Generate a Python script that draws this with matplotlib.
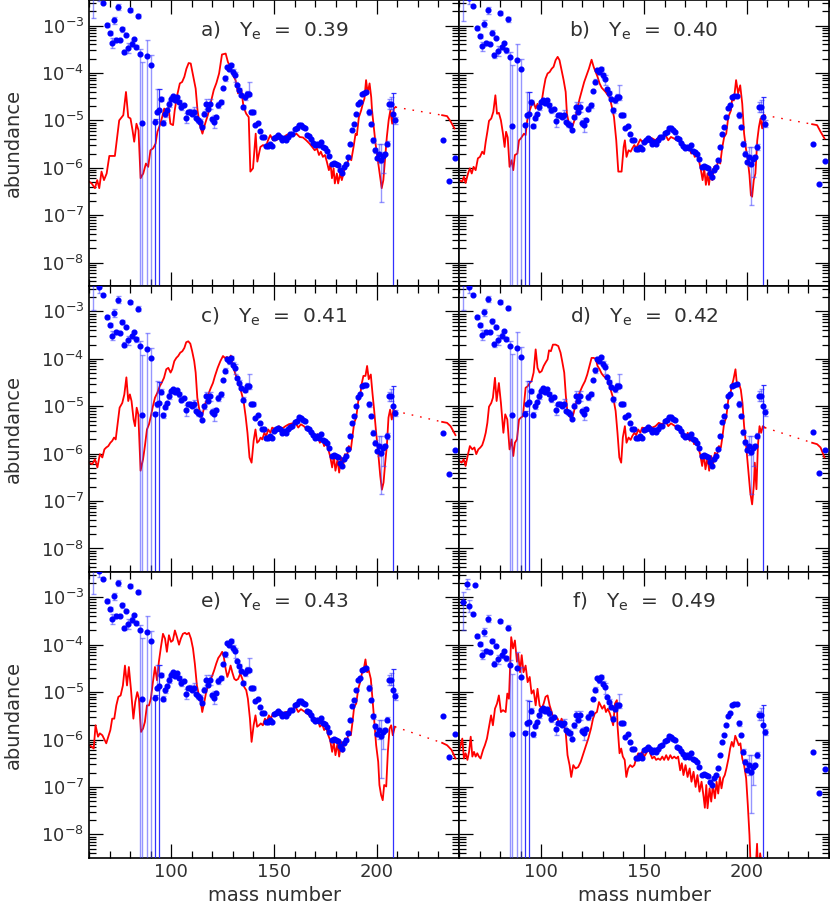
import numpy as np
import matplotlib.pyplot as plt
from matplotlib.ticker import LogLocator, MultipleLocator, NullFormatter

# panel labels
panel_tags = ['a', 'b', 'c', 'd', 'e', 'f']
panel_ye = ['0.39', '0.40', '0.41', '0.42', '0.43', '0.49']
# normalisation of the observed pattern in each panel (dex, relative to panel b)
obs_shift = [0.07, 0.0, -0.07, -0.06, -0.02, -0.77]

# observed r-process abundances (log10, panel b scale)
obs_mass = [62, 64, 65, 66, 67, 68, 69, 70, 71, 72, 73, 74, 75, 76, 77, 78, 79, 80,
            81, 82, 83, 84, 85, 86, 88, 90,
            92, 93, 94, 95, 96, 97, 98, 99, 100, 101, 102, 103, 104, 105, 106, 107,
            108, 109, 110, 111, 112, 113, 114, 115, 116, 117, 118, 119, 120, 121,
            122, 123, 124, 125, 126, 127, 128, 129, 130, 131, 132, 133, 134, 135,
            136, 137, 138, 139, 140, 141, 142, 143, 144, 145, 146, 147, 148, 149,
            150, 151, 152, 153, 154, 155, 156, 157, 158, 159, 160, 161, 162, 163,
            164, 165, 166, 167, 168, 169, 170, 171, 172, 173, 174, 175, 176, 177,
            178, 179, 180, 181, 182, 183, 184, 185, 186, 187, 188, 189, 190, 191,
            192, 193, 194, 195, 196, 197, 198, 199, 200, 201, 202, 203, 204, 205,
            206, 207, 208, 209,
            232, 235, 238]
obs_log = [-2.33, -1.95, -2.42, -1.60, -2.59, -1.96, -3.05, -3.22, -3.44, -2.96, -3.37,
           -2.68, -3.38, -3.15, -3.63, -3.26, -3.54, -2.74, -3.45, -3.36, -3.52, -2.87,
           -3.66, -5.12, -3.72, -3.91,
           -5.10, -4.89, -4.86, -4.62, -5.12, -4.94, -4.86, -4.72, -4.61, -4.56, -4.63,
           -4.58, -4.68, -4.79, -4.75, -5.01, -4.89, -4.89, -4.93, -4.89, -5.03, -5.07,
           -5.10, -5.21, -4.93, -4.72, -4.82, -4.72, -5.05, -5.10, -5.00, -4.75, -4.68,
           -4.38, -4.18, -3.94, -3.98, -3.91, -4.05, -4.12, -4.33, -4.43, -4.54, -4.79,
           -4.58, -4.51, -4.51, -4.89, -4.89, -5.17, -5.12, -5.29, -5.42, -5.42, -5.61,
           -5.61, -5.56, -5.61, -5.45, -5.42, -5.38, -5.42, -5.49, -5.45, -5.49, -5.42,
           -5.36, -5.35, -5.26, -5.24, -5.16, -5.17, -5.21, -5.24, -5.38, -5.40, -5.47,
           -5.54, -5.59, -5.56, -5.59, -5.52, -5.64, -5.66, -5.71, -5.82, -5.98, -5.96,
           -5.98, -6.01, -6.12, -6.19, -6.05, -5.98, -5.84, -5.56, -5.28, -5.14, -4.93,
           -4.73, -4.68, -4.51, -4.49, -4.48, -4.89, -5.14, -5.49, -5.70, -5.87, -5.77,
           -5.91, -5.82, -5.77, -5.56, -4.72, -4.72, -4.93, -5.07,
           -5.49, -6.35, -5.86]
# error bars (down, up) in dex; None = lower limit reaches zero
obs_err = {62: (0.58, 0.21), 64: (0.10, 0.10), 65: (0.13, 0.13), 69: (0.04, 0.04),
           70: (0.04, 0.04), 71: (0.10, 0.10), 72: (0.08, 0.08), 73: (0.04, 0.04),
           74: (0.07, 0.07), 76: (0.05, 0.05), 77: (0.05, 0.05), 79: (0.10, 0.10),
           80: (0.04, 0.04), 81: (0.05, 0.05), 83: (0.05, 0.05), 84: (0.05, 0.05),
           85: (None, 0.10), 86: (None, 1.28), 88: (None, 0.34), 90: (None, 0.21),
           92: (None, 0.05), 93: (0.05, 0.49), 94: (None, 0.45), 95: (0.05, 0.05),
           96: (0.05, 0.05), 97: (0.05, 0.05), 99: (0.06, 0.06), 100: (0.05, 0.05),
           102: (0.05, 0.05), 104: (0.05, 0.05), 105: (0.06, 0.06), 107: (0.12, 0.10),
           109: (0.05, 0.05), 111: (0.05, 0.10), 113: (0.06, 0.06), 114: (0.05, 0.05),
           116: (0.05, 0.05), 117: (0.10, 0.10), 119: (0.10, 0.10), 120: (0.06, 0.06),
           121: (0.14, 0.14), 123: (0.06, 0.06), 124: (0.05, 0.05), 126: (0.05, 0.05),
           128: (0.05, 0.05), 129: (0.04, 0.04), 130: (0.06, 0.06), 131: (0.14, 0.08),
           133: (0.05, 0.05), 135: (0.05, 0.05), 136: (0.05, 0.05), 137: (0.06, 0.06),
           138: (0.05, 0.25), 139: (0.04, 0.04), 140: (0.04, 0.04), 196: (0.06, 0.06),
           198: (0.05, 0.05), 199: (0.05, 0.05), 201: (0.20, 0.21), 202: (0.88, 0.35),
           203: (0.37, 0.09), 205: (0.06, 0.06), 206: (0.10, 0.10), 207: (0.10, 0.15),
           208: (None, 0.43), 209: (0.07, 0.07)}
dark_bars = [92, 94, 208]

# model abundances (log10) for each panel
model_a_mass = [60.0, 61.3, 62.9, 64.0, 65.0, 66.1, 67.3, 68.6, 69.9, 72.6, 74.7, 76.7, 78.0,
                79.1, 80.2, 81.2, 82.0, 83.1, 84.1, 85.1, 86.4, 87.7, 88.8, 89.9, 91.2, 92.4,
                93.3, 94.5, 95.6, 96.6, 97.7, 98.7, 99.6, 100.9, 101.7, 102.9, 104.2, 105.3,
                106.4, 107.4, 108.5, 109.5, 110.3, 111.9, 112.8, 113.9, 115.2, 116.5, 117.8,
                119.1, 120.7, 122.0, 123.3, 124.7, 126.5, 127.6, 128.8, 130.1, 131.3, 132.5,
                134.1, 135.2, 136.5, 137.7, 138.5, 139.8, 141.1, 141.9, 143.4, 144.7, 146.0,
                147.1, 148.2, 149.5, 151.1, 152.8, 154.4, 156.0, 157.6, 159.2, 160.9, 162.5,
                164.1, 165.7, 167.3, 168.6, 169.8, 170.9, 171.9, 172.8, 173.8, 174.8, 175.7,
                176.7, 177.5, 178.2, 179.0, 179.6, 180.6, 181.2, 182.2, 183.0, 183.8, 184.8,
                185.6, 186.4, 187.6, 188.7, 189.7, 190.3, 191.3, 192.4, 193.2, 194.0, 194.8,
                195.6, 196.5, 197.3, 197.7, 198.4, 199.4, 200.5, 201.6, 202.4, 203.2, 204.1,
                204.9, 205.8, 206.6, 207.5, 208.3, 209.1]
model_a_log = [-6.29, -6.33, -6.43, -6.26, -6.43, -6.08, -6.26, -6.12, -5.75, -5.75, -5.00,
               -4.89, -4.40, -4.93, -4.96, -5.21, -5.45, -5.07, -5.21, -6.22, -6.12, -5.91,
               -5.98, -5.63, -5.59, -5.49, -5.24, -5.10, -4.93, -4.75, -4.89, -4.72, -5.07,
               -5.10, -4.79, -4.47, -4.22, -4.19, -4.08, -3.91, -3.79, -3.80, -3.98, -4.33,
               -4.79, -5.10, -5.28, -5.07, -4.89, -4.65, -4.36, -4.21, -4.01, -3.61, -3.59,
               -3.77, -3.87, -4.05, -4.15, -4.43, -4.36, -4.72, -4.86, -4.93, -6.08, -6.01,
               -5.28, -5.87, -5.56, -5.52, -5.56, -5.42, -5.31, -5.42, -5.42, -5.35, -5.38,
               -5.31, -5.28, -5.33, -5.28, -5.35, -5.36, -5.42, -5.49, -5.56, -5.63, -5.59,
               -5.73, -5.66, -5.77, -5.73, -5.87, -6.05, -5.91, -6.22, -6.01, -6.33, -6.12,
               -6.33, -6.12, -6.26, -6.12, -5.91, -5.94, -5.77, -5.84, -5.56, -5.28, -5.31,
               -4.93, -4.79, -4.65, -4.54, -4.15, -4.43, -4.22, -4.51, -4.79, -5.07, -5.49,
               -5.84, -6.19, -6.43, -6.26, -5.77, -5.35, -4.99, -4.79, -5.07, -4.75, -4.72]
tail_a_mass = [231.8, 234.2, 235.9, 237.8]
tail_a_log = [-4.89, -4.91, -5.02, -5.17]

model_b_mass = [60.0, 61.6, 62.4, 63.2, 64.4, 65.3, 66.2, 67.1, 68.1, 69.2, 70.2, 71.3, 72.2,
                73.0, 73.8, 74.6, 75.7, 76.7, 77.7, 78.5, 79.4, 80.4, 81.4, 82.2, 82.9, 83.7,
                84.6, 85.6, 86.4, 87.2, 88.4, 89.2, 90.1, 91.6, 92.4, 93.2, 94.4, 95.3, 96.3,
                97.3, 98.2, 99.2, 100.2, 101.2, 102.1, 103.1, 104.1, 105.1, 106.0, 107.0,
                108.0, 108.9, 109.9, 110.9, 111.9, 112.5, 113.5, 114.6, 115.4, 116.7, 117.7,
                118.7, 120.0, 120.9, 121.9, 123.2, 124.5, 125.5, 126.5, 127.4, 128.4, 129.4,
                131.3, 133.3, 134.2, 135.4, 136.5, 137.5, 139.1, 140.1, 140.7, 141.5, 142.5,
                143.5, 144.3, 145.3, 146.2, 147.2, 148.2, 149.1, 150.8, 152.4, 154.0, 155.6,
                157.2, 158.9, 160.5, 161.8, 163.1, 164.5, 166.2, 167.5, 168.6, 169.9, 171.0,
                171.8, 173.0, 173.9, 174.7, 175.7, 176.7, 177.7, 178.5, 179.3, 180.1, 180.9,
                181.6, 182.5, 183.2, 184.1, 185.1, 186.1, 187.1, 188.0, 189.0, 190.0, 191.0,
                192.3, 192.9, 193.7, 194.8, 195.8, 196.8, 197.8, 198.7, 199.7, 200.5, 201.3,
                202.0, 202.6, 203.4, 204.2, 205.1, 205.9, 206.7, 207.5, 208.5]
model_b_log = [-6.26, -6.29, -6.19, -6.32, -6.12, -6.01, -6.12, -5.98, -6.05, -5.80, -5.77,
               -5.66, -5.71, -5.45, -5.24, -5.01, -4.96, -4.82, -4.47, -4.86, -4.84, -5.00,
               -5.28, -5.56, -5.24, -5.36, -5.98, -5.84, -6.05, -5.73, -5.70, -5.42, -5.38,
               -5.28, -5.31, -5.00, -4.79, -4.68, -4.61, -4.75, -4.65, -4.75, -4.61, -4.33,
               -4.12, -4.01, -3.98, -3.91, -3.87, -3.73, -3.66, -3.73, -3.94, -4.15, -4.40,
               -4.86, -5.07, -5.17, -5.10, -4.93, -4.72, -4.54, -4.33, -4.19, -4.07, -3.91,
               -3.72, -3.87, -3.98, -4.08, -4.22, -4.31, -4.40, -4.52, -4.68, -4.93, -5.42,
               -6.08, -6.08, -5.56, -5.42, -5.77, -5.63, -5.66, -5.59, -5.52, -5.59, -5.49,
               -5.40, -5.45, -5.42, -5.35, -5.38, -5.42, -5.35, -5.36, -5.31, -5.42, -5.35,
               -5.38, -5.42, -5.45, -5.49, -5.59, -5.63, -5.56, -5.70, -5.66, -5.77, -5.73,
               -5.84, -6.05, -6.26, -6.01, -6.36, -6.12, -6.36, -6.05, -6.26, -5.98, -6.05,
               -5.84, -5.91, -5.59, -5.35, -5.28, -4.93, -4.79, -4.54, -4.58, -4.15, -4.43,
               -4.26, -4.65, -5.28, -5.63, -5.84, -6.15, -6.58, -6.61, -6.26, -6.12, -5.42,
               -5.14, -4.96, -5.17, -4.89]
tail_b_mass = [231.8, 234.2, 235.9, 237.8]
tail_b_log = [-5.08, -5.10, -5.24, -5.38]

model_c_mass = [60.0, 61.6, 62.9, 64.1, 65.3, 66.5, 67.5, 68.4, 69.4, 70.4, 71.3, 72.2, 73.0,
                73.8, 74.9, 76.2, 77.2, 78.2, 79.1, 79.9, 80.7, 81.7, 82.4, 83.2, 84.0, 85.1,
                86.3, 87.2, 88.2, 89.2, 90.1, 91.1, 92.1, 93.2, 94.4, 95.3, 96.5, 97.6, 98.6,
                99.7, 100.5, 101.5, 102.5, 103.4, 104.4, 105.4, 106.4, 107.3, 108.3, 109.3,
                110.2, 111.2, 111.9, 112.7, 113.5, 114.6, 115.4, 116.4, 117.4, 118.3, 119.3,
                120.3, 121.3, 122.6, 123.9, 125.2, 126.1, 127.1, 128.1, 129.0, 130.0, 131.3,
                132.3, 133.3, 134.2, 135.2, 136.2, 137.1, 138.1, 139.1, 140.1, 141.0, 141.8,
                142.7, 143.5, 144.3, 145.3, 146.2, 147.2, 148.3, 149.1, 150.8, 152.4, 154.0,
                155.6, 157.2, 158.9, 160.5, 161.8, 163.1, 164.5, 166.2, 167.8, 168.9, 170.2,
                171.3, 172.3, 173.5, 174.4, 175.4, 176.4, 177.3, 178.3, 179.1, 179.9, 180.9,
                181.7, 182.7, 183.5, 184.5, 185.4, 186.4, 187.4, 188.2, 189.0, 190.0, 191.0,
                191.9, 192.6, 193.5, 194.5, 195.3, 196.1, 197.1, 197.9, 198.7, 199.7, 200.7,
                201.7, 202.5, 203.3, 204.1, 204.9, 205.7, 206.5, 207.3, 208.1, 208.8]
model_c_log = [-6.19, -6.22, -6.12, -6.29, -6.01, -6.08, -5.91, -5.87, -5.84, -5.77, -5.73,
               -5.66, -5.70, -5.42, -5.03, -4.93, -4.75, -4.39, -4.89, -4.75, -4.89, -5.28,
               -5.42, -5.03, -5.17, -6.36, -6.12, -5.84, -5.49, -5.38, -5.21, -5.00, -4.82,
               -4.72, -4.58, -4.51, -4.40, -4.22, -4.19, -4.29, -4.22, -4.05, -3.98, -3.94,
               -3.87, -3.84, -3.77, -3.65, -3.63, -3.68, -3.84, -4.05, -4.29, -4.82, -5.03,
               -5.24, -5.14, -4.96, -4.86, -4.72, -4.61, -4.51, -4.36, -4.19, -4.05, -3.94,
               -3.98, -3.96, -4.01, -3.93, -4.15, -4.33, -4.43, -4.58, -4.72, -4.89, -5.21,
               -5.56, -6.08, -6.19, -5.73, -5.49, -5.77, -5.73, -5.66, -5.70, -5.56, -5.63,
               -5.49, -5.56, -5.45, -5.49, -5.42, -5.47, -5.42, -5.38, -5.36, -5.35, -5.45,
               -5.38, -5.42, -5.49, -5.56, -5.59, -5.66, -5.59, -5.77, -5.70, -5.84, -5.77,
               -5.91, -6.05, -6.29, -6.05, -6.36, -6.12, -6.40, -6.08, -6.29, -6.01, -6.08,
               -5.84, -5.91, -5.63, -5.35, -5.24, -4.89, -4.79, -4.54, -4.36, -4.36, -4.15,
               -4.43, -4.33, -4.72, -5.07, -5.56, -5.98, -6.47, -6.76, -6.61, -6.19, -5.84,
               -5.24, -5.07, -5.28, -5.07, -5.10]
tail_c_mass = [231.8, 234.2, 235.9, 238.3]
tail_c_log = [-5.33, -5.35, -5.42, -5.61]

model_d_mass = [60.0, 61.3, 62.3, 63.2, 64.4, 65.3, 66.5, 67.5, 68.4, 69.4, 70.4, 71.3, 72.2,
                73.0, 73.8, 74.6, 75.7, 76.5, 77.5, 78.3, 79.4, 80.4, 81.6, 82.5, 83.5, 84.6,
                85.6, 86.4, 87.2, 88.2, 89.2, 90.1, 91.1, 92.4, 93.4, 94.4, 95.3, 96.3, 97.3,
                98.2, 99.2, 100.2, 101.2, 102.1, 103.1, 103.8, 104.7, 105.7, 107.0, 108.3,
                109.4, 110.2, 111.2, 112.0, 112.8, 113.8, 114.8, 115.8, 116.7, 117.9, 119.0,
                120.0, 121.3, 122.4, 123.5, 124.5, 125.5, 126.5, 127.4, 128.4, 129.4, 130.3,
                131.3, 132.3, 133.3, 134.2, 135.2, 136.2, 137.1, 138.0, 138.9, 139.7, 140.7,
                141.5, 142.5, 143.5, 144.3, 145.3, 146.2, 147.2, 148.2, 149.1, 150.8, 152.4,
                154.0, 155.6, 157.2, 158.9, 160.5, 161.8, 163.1, 164.5, 166.2, 167.8, 168.9,
                170.2, 171.3, 172.3, 173.5, 174.4, 175.4, 176.4, 177.3, 178.3, 179.1, 179.9,
                180.9, 181.7, 182.7, 183.5, 184.5, 185.4, 186.4, 187.4, 188.2, 189.0, 190.0,
                191.0, 191.9, 192.6, 193.5, 194.5, 195.3, 196.1, 197.1, 197.9, 198.7, 199.7,
                200.7, 201.7, 202.6, 203.4, 203.9, 204.7, 205.4, 206.2, 207.0, 207.8, 208.8]
model_d_log = [-6.15, -6.19, -6.12, -6.26, -6.01, -5.84, -5.91, -5.87, -6.01, -5.91, -5.87,
               -5.82, -5.70, -5.56, -5.35, -5.01, -4.93, -4.82, -4.40, -4.89, -4.51, -4.93,
               -5.56, -5.17, -5.28, -5.91, -5.70, -6.05, -5.77, -5.70, -5.28, -5.24, -5.21,
               -4.61, -4.58, -4.51, -4.47, -4.29, -3.80, -4.19, -4.29, -4.26, -4.15, -4.08,
               -4.01, -3.82, -3.84, -3.70, -3.70, -3.73, -3.87, -4.05, -4.29, -4.79, -5.14,
               -5.21, -5.28, -5.14, -4.96, -4.79, -4.68, -4.58, -4.47, -4.33, -4.15, -3.98,
               -3.98, -4.00, -4.15, -4.22, -4.31, -4.36, -4.40, -4.43, -4.58, -4.72, -4.86,
               -5.10, -5.56, -6.08, -6.19, -5.66, -5.42, -5.77, -5.66, -5.71, -5.63, -5.56,
               -5.61, -5.49, -5.56, -5.45, -5.47, -5.42, -5.45, -5.42, -5.35, -5.38, -5.31,
               -5.42, -5.36, -5.40, -5.45, -5.52, -5.56, -5.66, -5.56, -5.73, -5.66, -5.80,
               -5.73, -5.87, -6.01, -6.26, -6.01, -6.33, -6.08, -6.36, -6.05, -6.26, -5.98,
               -6.05, -5.84, -5.87, -5.63, -5.35, -5.24, -4.86, -4.79, -4.58, -4.44, -4.22,
               -4.58, -4.51, -4.65, -4.93, -5.42, -5.84, -6.33, -6.82, -7.07, -6.68, -6.19,
               -6.75, -5.84, -5.42, -5.56, -5.42, -5.45]
tail_d_mass = [231.8, 234.2, 235.9, 237.8]
tail_d_log = [-5.77, -5.80, -5.87, -6.08]

model_e_mass = [60.0, 61.3, 62.3, 63.2, 64.4, 65.3, 66.5, 67.3, 68.4, 69.4, 70.4, 71.3, 72.3,
                73.3, 74.3, 75.4, 76.5, 77.5, 78.5, 79.4, 80.4, 81.6, 82.5, 83.5, 84.3, 85.3,
                86.3, 87.2, 88.2, 89.2, 90.1, 91.1, 92.1, 93.1, 94.0, 95.0, 96.0, 97.0, 97.9,
                98.9, 99.9, 100.8, 101.8, 102.8, 103.8, 104.7, 105.7, 106.7, 107.6, 108.6,
                109.6, 110.6, 111.5, 112.5, 113.5, 114.5, 115.1, 116.1, 117.0, 118.0, 119.0,
                120.0, 120.9, 121.9, 122.9, 123.9, 124.8, 125.6, 126.5, 127.3, 128.1, 128.9,
                129.7, 130.7, 131.6, 132.6, 133.6, 134.6, 135.5, 136.5, 137.3, 138.3, 139.1,
                140.1, 141.0, 141.8, 142.7, 143.6, 144.6, 145.6, 146.5, 147.5, 148.5, 149.5,
                150.8, 152.4, 154.0, 155.6, 157.2, 158.9, 160.5, 161.8, 163.1, 164.5, 166.2,
                167.8, 168.9, 170.2, 171.3, 172.3, 173.5, 174.4, 175.4, 176.4, 177.3, 178.3,
                179.1, 179.9, 180.9, 181.7, 182.7, 183.5, 184.5, 185.4, 186.4, 187.4, 188.2,
                189.0, 190.0, 191.0, 191.9, 192.9, 193.7, 194.5, 195.3, 196.1, 197.1, 197.9,
                198.7, 199.7, 200.7, 201.3, 202.1, 202.9, 203.6, 204.6, 205.4, 206.2, 207.0,
                207.8, 208.8]
model_e_log = [-6.12, -6.15, -6.19, -5.70, -5.94, -5.87, -5.91, -5.98, -6.08, -5.94, -5.80,
               -5.56, -5.56, -5.28, -5.10, -5.07, -4.86, -4.44, -4.86, -4.47, -4.93, -5.56,
               -5.21, -5.00, -5.14, -5.84, -5.77, -5.63, -5.28, -5.28, -5.14, -4.79, -4.47,
               -4.75, -4.36, -4.05, -3.77, -3.87, -4.15, -3.80, -3.94, -3.91, -3.70, -3.84,
               -4.00, -3.87, -3.77, -3.75, -3.78, -3.75, -3.87, -4.08, -4.40, -4.86, -5.07,
               -5.24, -5.42, -5.21, -5.00, -4.86, -4.75, -4.65, -4.54, -4.40, -4.28, -4.22,
               -4.15, -4.26, -4.51, -4.68, -4.58, -4.44, -4.58, -4.72, -4.75, -4.72, -4.61,
               -4.72, -4.89, -4.96, -5.14, -5.56, -6.05, -5.70, -5.49, -5.73, -5.70, -5.66,
               -5.70, -5.56, -5.63, -5.49, -5.56, -5.45, -5.47, -5.42, -5.47, -5.42, -5.42,
               -5.36, -5.31, -5.42, -5.36, -5.40, -5.45, -5.52, -5.56, -5.66, -5.56, -5.73,
               -5.68, -5.80, -5.75, -5.91, -6.01, -6.26, -6.05, -6.33, -6.08, -6.36, -6.05,
               -6.26, -5.98, -6.05, -5.84, -5.91, -5.63, -5.31, -5.24, -4.93, -4.79, -4.58,
               -4.51, -4.31, -4.58, -4.54, -4.72, -5.14, -5.56, -6.12, -6.47, -6.96, -7.17,
               -7.28, -6.96, -6.99, -6.26, -5.77, -5.70, -5.91, -5.73]
tail_e_mass = [231.8, 234.2, 236.4, 238.3]
tail_e_log = [-6.07, -6.12, -6.22, -6.40]

model_f_mass = [60.0, 60.8, 61.6, 62.4, 63.2, 64.1, 64.9, 65.7, 66.5, 67.3, 68.1, 68.9, 69.7,
                70.5, 71.7, 72.6, 73.6, 74.6, 75.6, 76.5, 77.5, 78.5, 79.4, 80.4, 81.4, 82.7,
                83.5, 84.3, 85.4, 86.3, 87.2, 88.2, 88.8, 89.7, 90.5, 91.4, 92.4, 93.4, 94.4,
                95.3, 96.3, 97.3, 98.2, 99.2, 100.2, 101.2, 102.1, 103.1, 104.1, 105.1, 106.0,
                107.0, 108.0, 108.9, 109.9, 110.9, 111.9, 112.8, 113.8, 114.6, 115.6, 116.7,
                118.0, 119.2, 120.3, 121.6, 122.9, 124.2, 125.2, 126.1, 127.1, 128.1, 128.9,
                129.7, 130.7, 131.5, 132.4, 133.4, 134.2, 135.0, 135.9, 136.8, 137.1, 138.1,
                138.9, 139.7, 140.6, 141.4, 142.3, 143.3, 144.3, 145.3, 146.2, 147.2, 148.2,
                149.1, 150.1, 151.1, 152.1, 153.0, 154.0, 155.0, 155.9, 156.9, 157.9, 158.9,
                159.8, 160.8, 161.8, 162.8, 163.7, 164.7, 165.7, 166.6, 167.6, 168.4, 169.2,
                170.2, 171.2, 172.2, 173.1, 174.1, 175.1, 176.0, 177.0, 178.0, 179.0, 179.6,
                180.3, 180.9, 181.9, 182.7, 183.5, 184.5, 185.3, 186.1, 186.9, 187.7, 188.5,
                189.3, 190.1, 191.1, 191.9, 192.7, 193.5, 194.4, 195.2, 196.1, 196.9, 197.8,
                198.7, 199.7, 200.5, 201.3, 202.0, 203.0, 204.0, 205.0, 205.6, 206.5, 207.5,
                208.5, 209.0]
model_f_log = [-6.26, -6.12, -5.98, -6.40, -6.29, -6.43, -6.26, -5.94, -6.36, -6.26, -6.36,
               -6.29, -6.36, -6.40, -6.22, -6.12, -5.98, -5.73, -5.49, -5.70, -5.35, -5.24,
               -5.07, -5.42, -5.38, -5.42, -5.03, -5.14, -3.84, -4.08, -3.91, -4.36, -4.19,
               -4.58, -4.22, -4.58, -4.44, -4.79, -4.68, -5.03, -4.96, -5.28, -4.93, -5.28,
               -5.35, -5.24, -5.10, -5.07, -5.28, -5.42, -5.59, -5.52, -5.56, -5.70, -5.56,
               -5.66, -5.84, -6.33, -6.54, -6.79, -6.54, -6.61, -6.58, -6.47, -6.32, -6.15,
               -5.98, -5.77, -5.56, -5.45, -5.42, -5.21, -5.28, -5.35, -5.28, -5.42, -5.35,
               -5.45, -5.56, -5.70, -5.24, -5.17, -5.70, -6.29, -6.19, -6.36, -6.43, -6.79,
               -6.61, -6.54, -6.58, -6.54, -6.40, -6.29, -6.33, -6.26, -6.36, -6.29, -6.19,
               -6.29, -6.40, -6.36, -6.43, -6.40, -6.43, -6.36, -6.43, -6.33, -6.43, -6.33,
               -6.40, -6.36, -6.40, -6.36, -6.65, -6.50, -6.75, -6.54, -6.79, -6.61, -6.89,
               -6.68, -7.00, -6.75, -7.10, -6.89, -7.21, -7.44, -6.96, -7.45, -7.03, -7.31,
               -6.96, -7.24, -6.89, -7.14, -6.79, -7.03, -6.82, -6.75, -6.61, -6.40, -6.19,
               -6.05, -6.15, -5.92, -6.01, -6.12, -6.08, -6.40, -6.54, -6.82, -7.38, -8.01,
               -8.80, -9.50, -9.00, -8.20, -8.90, -8.40, -8.70, -8.50, -8.60]

panel_models = [(model_a_mass, model_a_log, tail_a_mass, tail_a_log),
                (model_b_mass, model_b_log, tail_b_mass, tail_b_log),
                (model_c_mass, model_c_log, tail_c_mass, tail_c_log),
                (model_d_mass, model_d_log, tail_d_mass, tail_d_log),
                (model_e_mass, model_e_log, tail_e_mass, tail_e_log),
                (model_f_mass, model_f_log, None, None)]

txt_color = '#303030'
plt.rcParams['font.family'] = ['DejaVu Sans']

fig, axes = plt.subplots(3, 2, figsize=(8.3, 9.1), dpi=100, sharex=True, sharey=True)
fig.subplots_adjust(left=0.1072, right=0.9988, top=0.9995, bottom=0.0571,
                    wspace=0, hspace=0)

ymin, ymax = 10 ** -8.5, 10 ** -2.47
obs_mass_arr = np.array(obs_mass, dtype=float)
obs_log_arr = np.array(obs_log)

for i, ax in enumerate(axes.flat):
    m_mass, m_log, t_mass, t_log = panel_models[i]
    m_val = 10 ** np.array(m_log)
    ax.plot(m_mass, m_val, color='#ff0000', lw=1.3, zorder=2)
    if t_mass is not None:
        t_val = 10 ** np.array(t_log)
        ax.plot([m_mass[-1], t_mass[0]], [m_val[-1], t_val[0]], color='#ff0000',
                lw=1.0, ls=(0, (1.2, 5)), zorder=2)
        ax.plot(t_mass, t_val, color='#ff0000', lw=1.3, zorder=2)

    lg = obs_log_arr + obs_shift[i]
    val = 10 ** lg
    # error bars
    for group, col, lw in [('light', (0.25, 0.25, 1.0, 0.55), 1.0),
                           ('dark', (0.1, 0.1, 1.0, 0.9), 0.9)]:
        xs, ys, lo, hi = [], [], [], []
        for k, mass in enumerate(obs_mass):
            if mass not in obs_err:
                continue
            if (mass in dark_bars) != (group == 'dark'):
                continue
            dn, up = obs_err[mass]
            bottom = 1e-12 if dn is None else 10 ** (lg[k] - dn)
            xs.append(mass)
            ys.append(val[k])
            lo.append(val[k] - bottom)
            hi.append(10 ** (lg[k] + up) - val[k])
        ax.errorbar(xs, ys, yerr=[lo, hi], fmt='none', ecolor=col, elinewidth=lw,
                    capsize=1.8, capthick=lw, zorder=3)
    ax.plot(obs_mass_arr, val, 'o', color='#0000ff', ms=3.4, mec='#0000ff', zorder=4)

    ax.set_yscale('log')
    ax.set_xlim(60, 240)
    ax.set_ylim(ymin, ymax)
    ax.xaxis.set_major_locator(MultipleLocator(50))
    ax.xaxis.set_minor_locator(MultipleLocator(10))
    ax.yaxis.set_major_locator(LogLocator(base=10, numticks=20))
    ax.yaxis.set_minor_locator(LogLocator(base=10, subs=np.arange(2, 10), numticks=20))
    ax.yaxis.set_minor_formatter(NullFormatter())
    ax.tick_params(which='both', direction='in', top=True, right=True,
                   labelsize=13, labelcolor=txt_color, width=0.9)
    ax.tick_params(which='major', length=10)
    ax.tick_params(which='minor', length=5)
    for sp in ax.spines.values():
        sp.set_linewidth(1.2)

    ax.text(0.50, 0.874, panel_tags[i] + ')   Y$_{\\rm e}$  =  ' + panel_ye[i],
            transform=ax.transAxes, ha='center', va='baseline', fontsize=14.5,
            color=txt_color)

for ax in axes[:, 1]:
    ax.tick_params(labelleft=False)

for yc in [0.843, 0.529, 0.214]:
    fig.text(0.016, yc, 'abundance', rotation=90, ha='center', va='center',
             fontsize=14, color=txt_color)
for xc in [0.3307, 0.7765]:
    fig.text(xc, 0.016, 'mass number', ha='center', va='center', fontsize=14,
             color=txt_color)

fig.savefig('out.png', dpi=100)
